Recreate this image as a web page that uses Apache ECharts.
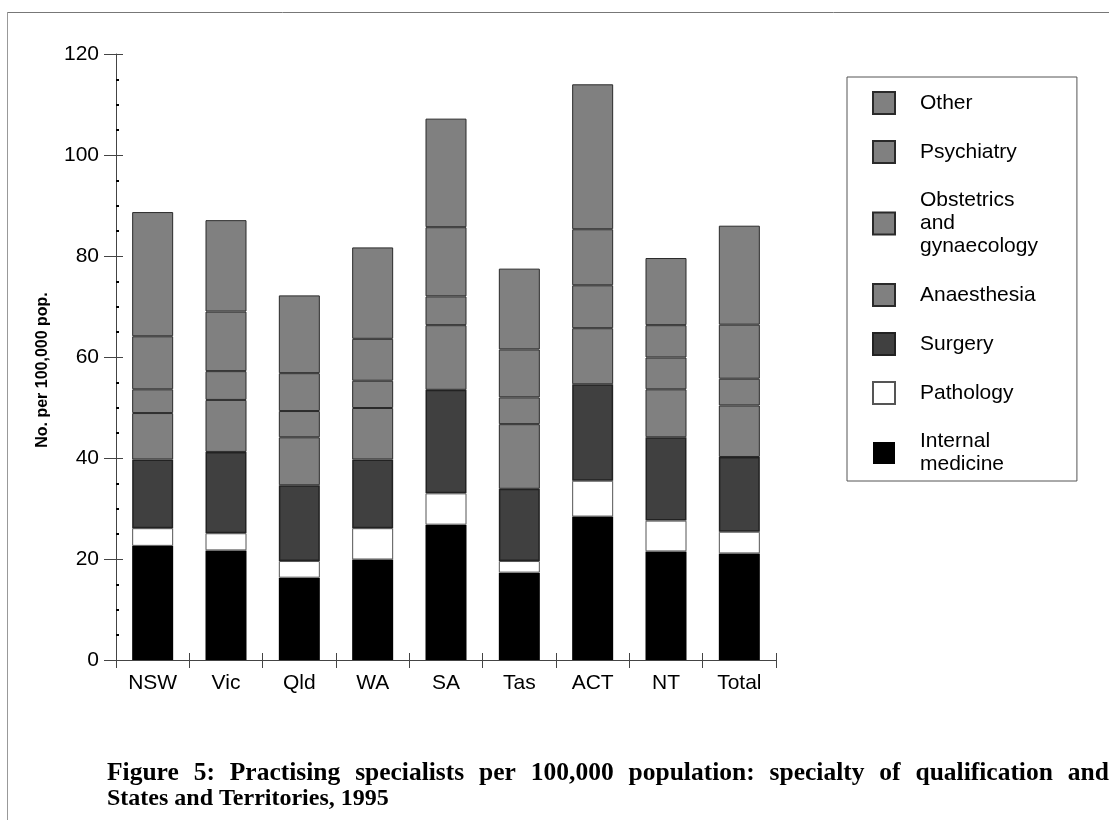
<!DOCTYPE html>
<html>
<head>
<meta charset="utf-8">
<script src="https://cdn.jsdelivr.net/npm/echarts@6/dist/echarts.min.js"></script>
<style>html,body{margin:0;padding:0;background:#fff}#c{width:1109px;height:820px}</style>
</head>
<body>
<div id="c"></div>
<script>
const categories = ['NSW','Vic','Qld','WA','SA','Tas','ACT','NT','Total'];
const internalMedicine = [22.6, 21.7, 16.3, 19.9, 26.8, 17.3, 28.4, 21.5, 21.1];
const pathology        = [3.5, 3.4, 3.3, 6.2, 6.2, 2.3, 7.1, 6.1, 4.3];
const surgery          = [13.6, 16.1, 15.0, 13.6, 20.5, 14.3, 19.1, 16.5, 14.8];
const anaesthesia      = [9.2, 10.3, 9.5, 10.2, 12.8, 12.8, 11.1, 9.5, 10.2];
const obstetrics       = [4.7, 5.7, 5.2, 5.4, 5.7, 5.3, 8.5, 6.3, 5.3];
const psychiatry       = [10.5, 11.8, 7.5, 8.3, 13.7, 9.5, 11.1, 6.4, 10.7];
const other            = [24.6, 18.1, 15.4, 18.1, 21.5, 16.0, 28.7, 13.3, 19.6];
const yTicks = [0, 20, 40, 60, 80, 100, 120];

const titleLine1Words = ['Figure','5:','Practising','specialists','per','100,000','population:','specialty','of','qualification','and'];
const titleLine2 = 'States and Territories, 1995';

const seriesDefs = [
  {name: 'Internal\nmedicine', data: internalMedicine, color: '#000000', border: '#000000', bw: 0},
  {name: 'Pathology', data: pathology, color: '#ffffff', border: '#555555', bw: 1},
  {name: 'Surgery', data: surgery, color: '#404040', border: '#222222', bw: 1.5},
  {name: 'Anaesthesia', data: anaesthesia, color: '#808080', border: '#2a2a2a', bw: 1},
  {name: 'Obstetrics\nand\ngynaecology', data: obstetrics, color: '#808080', border: '#2a2a2a', bw: 1},
  {name: 'Psychiatry', data: psychiatry, color: '#808080', border: '#2a2a2a', bw: 1},
  {name: 'Other', data: other, color: '#808080', border: '#2a2a2a', bw: 1}
];

const font = "'Liberation Sans', Arial, sans-serif";
const serif = "'Liberation Serif', 'Times New Roman', serif";
const chart = echarts.init(document.getElementById('c'), null, {renderer: 'canvas'});
chart.setOption({
  animation: false,
  backgroundColor: '#ffffff',
  title: {
    text: titleLine1Words.join('  \u200A'),
    subtext: titleLine2,
    left: 107, top: 760, padding: 0, itemGap: 0,
    textStyle: {fontFamily: serif, fontWeight: 'bold', fontSize: 25.5, lineHeight: 26, color: '#000'},
    subtextStyle: {fontFamily: serif, fontWeight: 'bold', fontSize: 24, lineHeight: 26, color: '#000'}
  },
  legend: {
    orient: 'vertical', left: 847, top: 77,
    padding: [14, 39, 5, 25],
    itemGap: 25, itemWidth: 22, itemHeight: 22,
    borderColor: '#555', borderWidth: 1, backgroundColor: '#fff',
    icon: 'rect',
    selectedMode: false,
    data: seriesDefs.map(s => s.name).reverse(),
    textStyle: {fontFamily: font, fontSize: 21, lineHeight: 23, color: '#000', padding: [0, 0, 0, 20]}
  },
  grid: {left: 116, right: 333, top: 54, bottom: 160},
  xAxis: [
    {type: 'category', data: categories, position: 'bottom',
     axisLine: {lineStyle: {color: '#444', width: 1}},
     axisTick: {show: true, length: 8, lineStyle: {color: '#444'}},
     axisLabel: {fontFamily: font, fontSize: 21, color: '#000', margin: 13}},
    {type: 'category', data: categories, position: 'bottom', gridIndex: 0,
     axisLine: {show: false},
     axisTick: {show: true, inside: true, length: 7, lineStyle: {color: '#444'}},
     axisLabel: {show: false}}
  ],
  yAxis: [
    {type: 'value', min: 0, max: 120, interval: 20, position: 'left',
     name: 'No. per 100,000 pop.', nameLocation: 'middle', nameGap: 65,
     nameTextStyle: {fontFamily: font, fontSize: 16, fontWeight: 'bold', color: '#000', padding: [0, 26, 0, 0]},
     axisLine: {show: true, lineStyle: {color: '#444', width: 1}},
     axisTick: {show: true, inside: true, length: 7, lineStyle: {color: '#444'}},
     minorTick: {show: true, splitNumber: 4, length: 3, lineStyle: {color: '#000', width: 2}},
     splitLine: {show: false},
     axisLabel: {fontFamily: font, fontSize: 21, color: '#000', margin: 17,
                 formatter: v => yTicks.includes(v) ? String(v) : ''}},
    {type: 'value', min: 0, max: 120, interval: 20, position: 'left',
     axisLine: {show: false},
     axisTick: {show: true, inside: false, length: 12, lineStyle: {color: '#444'}},
     splitLine: {show: false},
     axisLabel: {show: false}}
  ],
  series: seriesDefs.map(s => ({
    name: s.name, type: 'bar', stack: 'all', data: s.data,
    xAxisIndex: 0, yAxisIndex: 0,
    barWidth: 41,
    itemStyle: {color: s.color, borderColor: s.border, borderWidth: s.bw}
  })),
  graphic: [
    {type: 'line', shape: {x1: 7, y1: 12.5, x2: 1109, y2: 12.5}, style: {stroke: '#777', lineWidth: 1}, silent: true},
    {type: 'line', shape: {x1: 7.5, y1: 12, x2: 7.5, y2: 820}, style: {stroke: '#999', lineWidth: 1}, silent: true}
  ]
});
</script>
</body>
</html>
